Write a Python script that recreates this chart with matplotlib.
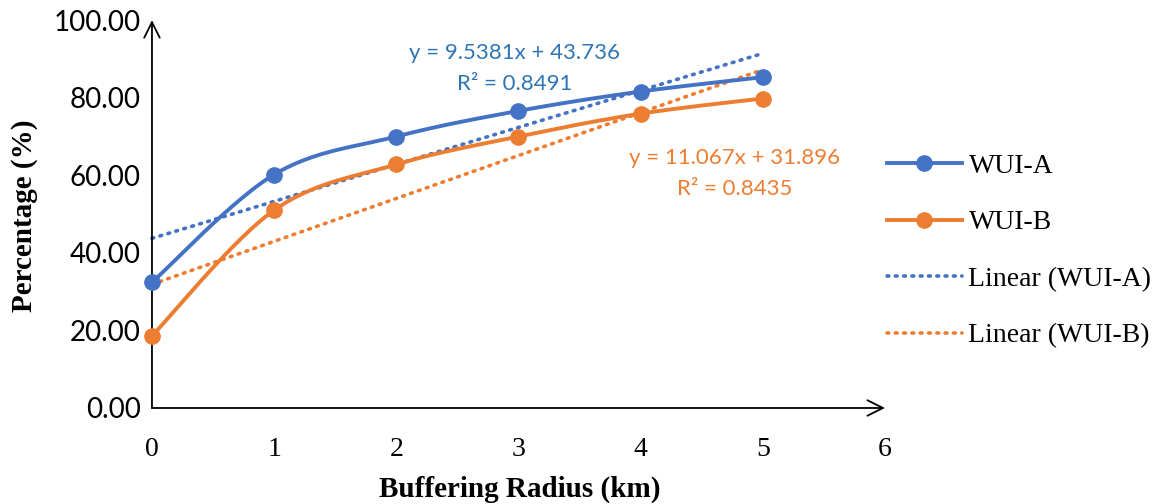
import numpy as np
import matplotlib.pyplot as plt
from matplotlib.lines import Line2D

radius = [0, 1, 2, 3, 4, 5]
wui_a = [32.4, 60.2, 70.0, 76.6, 81.6, 85.3]
wui_b = [18.6, 51.0, 62.8, 70.0, 75.9, 79.8]

# trendline coefficients (slope, intercept, r2)
fit_a = (9.5381, 43.736, 0.8491)
fit_b = (11.067, 31.896, 0.8435)

blue = '#4472C4'
orange = '#ED7D31'
blue_txt = '#2E75B6'

serif = ['Liberation Serif', 'DejaVu Serif']
sans = ['Lato', 'DejaVu Sans']


def smooth(x, y, n=30):
    # catmull-rom through the points, end points repeated
    x = np.asarray(x, float)
    y = np.asarray(y, float)
    px = np.concatenate([[x[0]], x, [x[-1]]])
    py = np.concatenate([[y[0]], y, [y[-1]]])
    xs, ys = [], []
    for i in range(1, len(px) - 2):
        t = np.linspace(0, 1, n)
        for p, out in ((px, xs), (py, ys)):
            p0, p1, p2, p3 = p[i - 1], p[i], p[i + 1], p[i + 2]
            out.extend(0.5 * (2 * p1 + (-p0 + p2) * t
                              + (2 * p0 - 5 * p1 + 4 * p2 - p3) * t ** 2
                              + (-p0 + 3 * p1 - 3 * p2 + p3) * t ** 3))
    return np.array(xs), np.array(ys)


fig = plt.figure(figsize=(11.69, 5.04), dpi=100)
ax = fig.add_axes([0.130, 0.1905, 0.627, 0.7695])
ax.set_xlim(0, 6)
ax.set_ylim(0, 100)

for s in ax.spines.values():
    s.set_visible(False)

# axes drawn as arrows
ax.annotate('', xy=(1, 0), xytext=(0, 0), xycoords='axes fraction',
            arrowprops=dict(arrowstyle='->', color='black', lw=1.3,
                            mutation_scale=28, shrinkA=0, shrinkB=0))
ax.annotate('', xy=(0, 1), xytext=(0, 0), xycoords='axes fraction',
            arrowprops=dict(arrowstyle='->', color='black', lw=1.3,
                            mutation_scale=28, shrinkA=0, shrinkB=0))

dots = (0, (0.5, 1.8))
xr = np.array([radius[0], radius[-1]])
for (m, b, r2), c in ((fit_a, blue), (fit_b, orange)):
    ax.plot(xr, m * xr + b, color=c, lw=2.6, ls=dots,
            dash_capstyle='round', clip_on=False, zorder=2)

for y, c in ((wui_a, blue), (wui_b, orange)):
    sx, sy = smooth(radius, y)
    ax.plot(sx, sy, color=c, lw=2.8, clip_on=False, zorder=3)
    ax.plot(radius, y, 'o', color=c, ms=11, clip_on=False, zorder=4)

ax.text(2.97, 87.5, f'y = {fit_a[0]}x + {fit_a[1]}\nR² = {fit_a[2]}',
        color=blue_txt, fontsize=16, ha='center', va='center',
        family=sans, linespacing=1.65)
ax.text(4.77, 60.5, f'y = {fit_b[0]}x + {fit_b[1]}\nR² = {fit_b[2]}',
        color=orange, fontsize=16, ha='center', va='center',
        family=sans, linespacing=1.65)

ax.set_xticks(range(0, 7))
ax.set_yticks(range(0, 101, 20))
ax.set_yticklabels([f'{v:.2f}' for v in range(0, 101, 20)],
                   fontsize=20, family=sans)
ax.set_xticklabels([str(v) for v in range(0, 7)], fontsize=20, family=serif)
ax.tick_params(length=0, pad=8)
ax.tick_params(axis='x', pad=21)

ax.set_xlabel('Buffering Radius (km)', fontsize=21, fontweight='bold',
              family=serif)
ax.set_ylabel('Percentage (%)', fontsize=21, fontweight='bold',
              family=serif)
ax.xaxis.set_label_coords(0.502, -0.175)
ax.yaxis.set_label_coords(-0.155, 0.495)

handles = [
    Line2D([], [], color=blue, lw=2.8, marker='o', ms=11),
    Line2D([], [], color=orange, lw=2.8, marker='o', ms=11),
    Line2D([], [], color=blue, lw=2.6, ls=dots, dash_capstyle='round'),
    Line2D([], [], color=orange, lw=2.6, ls=dots, dash_capstyle='round'),
]
labels = ['WUI-A', 'WUI-B', 'Linear (WUI-A)', 'Linear (WUI-B)']
fig.legend(handles, labels, loc='center left', bbox_to_anchor=(0.737, 0.502),
           frameon=False, prop={'family': serif, 'size': 20},
           handlelength=2.7, labelspacing=1.12, handletextpad=0.25)

fig.savefig('out.png', dpi=100)
